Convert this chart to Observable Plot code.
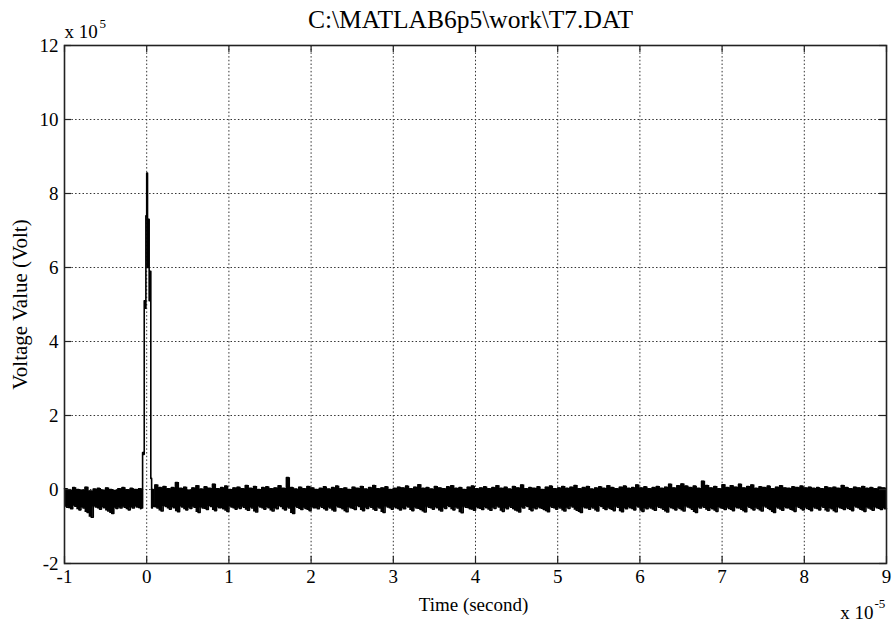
<!DOCTYPE html>
<html>
<head>
<meta charset="utf-8">
<script src="https://cdn.jsdelivr.net/npm/d3@7"></script>
<script src="https://cdn.jsdelivr.net/npm/@observablehq/plot@0.6"></script>
<style>
  html, body { margin: 0; padding: 0; background: #fff; }
  svg text { font-family: 'Liberation Serif', 'Times New Roman', Times, serif; }
</style>
</head>
<body>
<div id="chart"></div>
<script>
// ---- Data (time in units of 1e-5 s, voltage in units of 1e5 V) ----
const title = "C:\\MATLAB6p5\\work\\T7.DAT";
const xLabel = "Time (second)";
const yLabel = "Voltage Value (Volt)";
const xTicks = [-1, 0, 1, 2, 3, 4, 5, 6, 7, 8, 9];
const yTicks = [-2, 0, 2, 4, 6, 8, 10, 12];

const sampleStep = 0.05;   // spacing of noise columns
const preStart = -1.0;
const postStart = 0.10;

// noise before the impulse: upper / lower excursions per column
const upperPre = [0.02, -0.03, 0.05, 0.00, -0.02, 0.06, -0.04, 0.01, 0.03, -0.02, 0.04, 0.00, -0.03, 0.02, 0.05, -0.01, 0.03, 0.00, 0.02];
const lowerPre = [-0.48, -0.52, -0.45, -0.55, -0.50, -0.62, -0.75, -0.47, -0.53, -0.49, -0.58, -0.65, -0.51, -0.50, -0.48, -0.55, -0.50, -0.47, -0.52];

// impulse around t = 0
const spikeT = [-0.07, -0.06, -0.05, -0.04, -0.03, -0.02, -0.01, 0.00, 0.01, 0.02, 0.03, 0.04, 0.05, 0.06, 0.07, 0.08];
const spikeV = [-0.05, -0.50, 1.00, 0.95, 5.10, 4.90, 7.40, 8.55, 6.00, 7.30, 5.10, 5.90, 0.30, -0.50, 0.00, -0.45];

// noise after the impulse
const upperPost = [
  0.12, 0.05, 0.08, 0.02, 0.05, 0.19, 0.03, 0.06, -0.02, 0.04, 0.10, 0.01, 0.07, 0.03, 0.14, 0.02, 0.05, 0.09, 0.00, 0.04,
  0.06, 0.02, 0.11, 0.03, 0.08, 0.00, 0.05, 0.07, 0.02, 0.04, 0.10, 0.03, 0.32, 0.05, 0.01, 0.06, 0.02, 0.08, 0.04, 0.00,
  0.03, 0.07, 0.01, 0.05, 0.09, 0.02, 0.04, 0.00, 0.06, 0.03, 0.08, 0.01, 0.05, 0.11, 0.02, 0.04, 0.07, 0.00, 0.03, 0.06,
  0.04, 0.09, 0.02, 0.06, 0.13, 0.03, 0.05, 0.01, 0.08, 0.04, 0.02, 0.07, 0.10, 0.03, 0.05, 0.00, 0.06, 0.09, 0.02, 0.04,
  0.07, 0.02, 0.05, 0.10, 0.03, 0.06, 0.01, 0.08, 0.04, 0.12, 0.02, 0.05, 0.03, 0.07, 0.00, 0.06, 0.09, 0.02, 0.04, 0.08,
  0.03, 0.06, 0.11, 0.02, 0.05, 0.08, 0.01, 0.04, 0.07, 0.03, 0.10, 0.05, 0.02, 0.06, 0.09, 0.03, 0.05, 0.12, 0.04, 0.07,
  0.02, 0.05, 0.08, 0.03, 0.06, 0.14, 0.04, 0.10, 0.15, 0.09, 0.05, 0.09, 0.03, 0.22, 0.11, 0.04, 0.08, 0.02, 0.13, 0.05,
  0.10, 0.06, 0.14, 0.04, 0.08, 0.12, 0.03, 0.07, 0.05, 0.09, 0.02, 0.06, 0.10, 0.04, 0.03, 0.07, 0.05, 0.09, 0.04, 0.06,
  0.03, 0.05, 0.02, 0.07, 0.04, 0.06, 0.03, 0.11, 0.05, 0.02, 0.06, 0.04, 0.08, 0.03, 0.05, 0.02, 0.06, 0.04
];
const lowerPost = [
  -0.50, -0.58, -0.46, -0.53, -0.49, -0.60, -0.47, -0.55, -0.51, -0.48, -0.62, -0.50, -0.54, -0.46, -0.57, -0.49, -0.52, -0.59, -0.47, -0.53,
  -0.51, -0.48, -0.56, -0.50, -0.61, -0.47, -0.53, -0.49, -0.58, -0.52, -0.46, -0.55, -0.50, -0.65, -0.48, -0.54, -0.51, -0.57, -0.49, -0.52,
  -0.48, -0.55, -0.50, -0.58, -0.47, -0.52, -0.60, -0.49, -0.54, -0.46, -0.57, -0.51, -0.48, -0.56, -0.50, -0.62, -0.47, -0.53, -0.49, -0.55,
  -0.52, -0.47, -0.57, -0.50, -0.54, -0.61, -0.48, -0.53, -0.49, -0.58, -0.51, -0.46, -0.55, -0.50, -0.63, -0.48, -0.52, -0.56, -0.49, -0.54,
  -0.49, -0.56, -0.51, -0.47, -0.59, -0.52, -0.48, -0.55, -0.61, -0.50, -0.46, -0.57, -0.52, -0.49, -0.54, -0.60, -0.48, -0.53, -0.50, -0.58,
  -0.51, -0.47, -0.56, -0.62, -0.49, -0.53, -0.50, -0.58, -0.46, -0.54, -0.51, -0.57, -0.48, -0.60, -0.52, -0.49, -0.55, -0.47, -0.59, -0.52,
  -0.50, -0.56, -0.48, -0.53, -0.61, -0.49, -0.55, -0.51, -0.58, -0.47, -0.53, -0.62, -0.50, -0.48, -0.56, -0.52, -0.59, -0.49, -0.54, -0.51,
  -0.57, -0.49, -0.53, -0.60, -0.48, -0.55, -0.51, -0.58, -0.47, -0.54, -0.62, -0.50, -0.56, -0.49, -0.53, -0.59, -0.48, -0.55, -0.51, -0.57,
  -0.50, -0.55, -0.48, -0.58, -0.52, -0.60, -0.49, -0.54, -0.51, -0.57, -0.47, -0.53, -0.59, -0.50, -0.56, -0.49, -0.54, -0.52
];

// ---- Build the sample tables ----
const series = [];   // zig-zag trace
const band = [];     // per-column envelope (filled)
function pushColumns(start, ups, lows) {
  ups.forEach((u, i) => {
    const t = start + i * sampleStep;
    series.push({t, v: u});
    series.push({t: t + sampleStep / 2, v: lows[i]});
    band.push({t, hi: u, lo: lows[i]});
  });
  const last = ups.length - 1;
  band.push({t: start + ups.length * sampleStep, hi: ups[last], lo: lows[last]});
}
pushColumns(preStart, upperPre, lowerPre);
spikeT.forEach((t, i) => series.push({t, v: spikeV[i]}));
pushColumns(postStart, upperPost, lowerPost);
series.push({t: xTicks[xTicks.length - 1], v: lowerPost[lowerPost.length - 1]});
const bandPre = band.filter(d => d.t < 0);
const bandPost = band.filter(d => d.t > 0);

// ---- Layout ----
const W = 893, H = 624;
const mL = 64, mR = 7, mT = 45, mB = 61;
const innerW = W - mL - mR, innerH = H - mT - mB;
const tickLen = 7;
const serif = "'Liberation Serif', 'Times New Roman', Times, serif";
const gridStyle = {stroke: "#333", strokeOpacity: 1, strokeWidth: 1, strokeDasharray: "1.5,2.2"};
const tickStyle = {stroke: "#222", strokeWidth: 1.2};
const fmt = d => String(d);

const bandOpts = {x: "t", y1: "lo", y2: "hi", curve: "step-after", fill: "#000"};

const chart = Plot.plot({
  width: W, height: H,
  marginLeft: mL, marginRight: mR, marginTop: mT, marginBottom: mB,
  x: {domain: [-1, 9]},
  y: {domain: [-2, 12]},
  style: {fontFamily: serif, fontSize: "19px", color: "#000", background: "#fff", overflow: "visible"},
  marks: [
    Plot.gridX(xTicks, gridStyle),
    Plot.gridY(yTicks, gridStyle),
    Plot.areaY(bandPre, bandOpts),
    Plot.areaY(bandPost, bandOpts),
    Plot.line(series, {x: "t", y: "v", curve: "step-after", stroke: "#000", strokeWidth: 1.6}),
    // inward ticks on all four sides (MATLAB box style)
    Plot.tickX(xTicks, {x: d => d, insetTop: innerH - tickLen, ...tickStyle}),
    Plot.tickX(xTicks, {x: d => d, insetBottom: innerH - tickLen, ...tickStyle}),
    Plot.tickY(yTicks, {y: d => d, insetRight: innerW - tickLen, ...tickStyle}),
    Plot.tickY(yTicks, {y: d => d, insetLeft: innerW - tickLen, ...tickStyle}),
    Plot.frame({stroke: "#222", strokeWidth: 1.6}),
    Plot.axisX(xTicks, {tickSize: 0, tickPadding: 6, label: null, fontSize: 19, fontFamily: serif, tickFormat: fmt}),
    Plot.axisY(yTicks, {tickSize: 0, tickPadding: 6, label: null, fontSize: 19, fontFamily: serif, tickFormat: fmt}),
    // title
    Plot.text([title], {frameAnchor: "top", dx: -5, dy: -26, fontSize: 25.5, fontFamily: serif, lineAnchor: "middle", text: d => d}),
    // axis labels
    Plot.text([xLabel], {frameAnchor: "bottom", dx: -2, dy: 41, fontSize: 19, fontFamily: serif, lineAnchor: "middle", text: d => d}),
    Plot.text([yLabel], {frameAnchor: "left", dx: -44, dy: 0, rotate: -90, textAnchor: "middle", fontSize: 21, fontFamily: serif, lineAnchor: "middle", text: d => d}),
    // exponent labels
    Plot.text(["x 10"], {frameAnchor: "top-left", dx: 0, dy: -14, textAnchor: "start", lineAnchor: "middle", fontSize: 19, fontFamily: serif, text: d => d}),
    Plot.text(["5"], {frameAnchor: "top-left", dx: 35, dy: -22, textAnchor: "start", lineAnchor: "middle", fontSize: 13, fontFamily: serif, text: d => d}),
    Plot.text(["x 10"], {frameAnchor: "bottom-right", dx: -13, dy: 49, textAnchor: "end", lineAnchor: "middle", fontSize: 19, fontFamily: serif, text: d => d}),
    Plot.text(["-5"], {frameAnchor: "bottom-right", dx: -12, dy: 40, textAnchor: "start", lineAnchor: "middle", fontSize: 13, fontFamily: serif, text: d => d})
  ]
});
document.getElementById("chart").appendChild(chart);
</script>
</body>
</html>
